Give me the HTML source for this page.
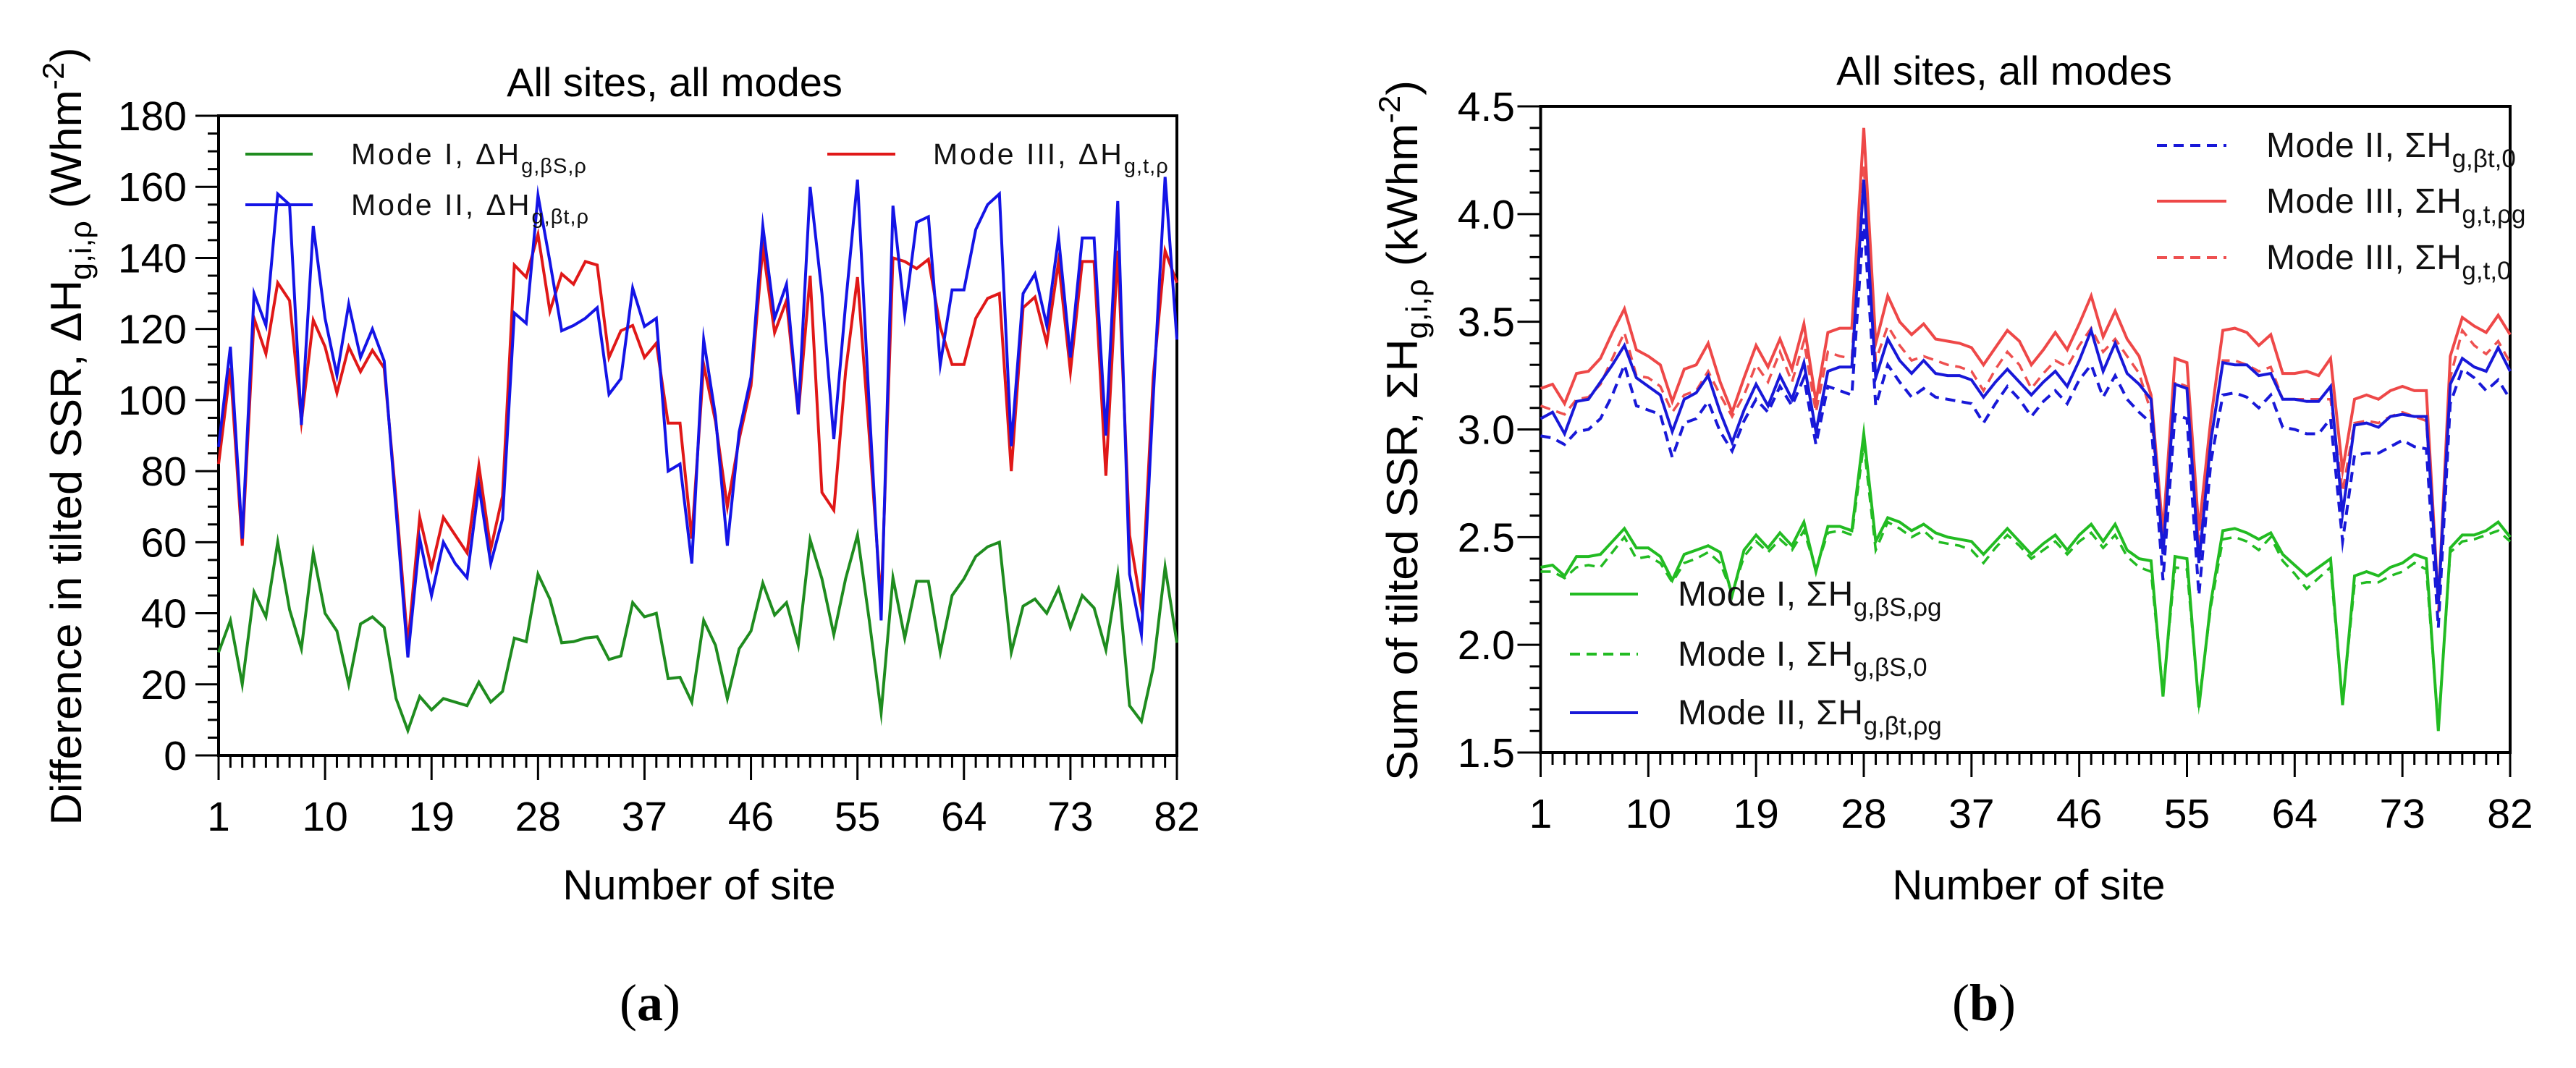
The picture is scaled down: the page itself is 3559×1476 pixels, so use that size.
<!DOCTYPE html>
<html><head><meta charset="utf-8"><style>
html,body{margin:0;padding:0;background:#fff;}
svg{display:block;font-family:"Liberation Sans",Arial,sans-serif;}
</style></head><body>
<svg id="fig" width="3559" height="1476" viewBox="0 0 3559 1476" xmlns="http://www.w3.org/2000/svg">
<rect x="0" y="0" width="3559" height="1476" fill="#fff"/>
<g id="chartA"></g>
<g id="chartB"></g>
</svg>
<script>
// ---------- Data: chart (a) ----------
const sitesA = Array.from({length:82},(_,i)=>i+1);
const xTickLabels = [1,10,19,28,37,46,55,64,73,82];
const yTicksA = [0,20,40,60,80,100,120,140,160,180];
const modeI_A = [29,38,20,46,39,60,41,30,57,40,35,20,37,39,36,16,7,16.6,12.8,16,15,14,20.6,15,18,33,32,51,44,31.7,32,33,33.4,27,28,43,39,40,21.6,22,15,38,31,16,30,35,48.5,39.5,43,31,60.7,49.7,34,49.7,62,38,12,50,33,49,49,29,45,49.7,56,58.7,60,29,42,44,40,47,36,45,41.5,29.7,50.8,14,9.6,24.7,53,31.7];
const modeII_A = [86.8,115,61,130,121,158,155,93,149,123,107,127,112,120,111,69,27.6,61,45,60,54,50,76,54,66.5,124.5,121.6,157.6,139,119.5,121,123,126,101.6,106,131.5,120.7,123,80,82,54,117,95.5,59,91,106.5,149,123,132.6,96,160,130,89,127,162,98,38,154.7,124,150,151.6,110,131,131,148,155,158,87,130,135.5,121,145.8,112,145.6,145.6,90,156,51,34,100.7,162.8,117];
const modeIII_A = [82,109,59,123,113,133,128,94,122.5,115,102,115,108,114,109,72,31,67,52.6,67,62,57,81.6,58,73,138,134.6,146.6,125,135.5,132.6,139,138,112,119.5,121,112,116,93.5,93.5,61,110,94,70,89,104,143,119,128,96,135,74,69,108,134.6,90,42.7,140,139,137,139.6,120.5,110,110,123,128.6,130,80,126,129,116,139,108,139,139,78.7,142,62,41.5,106.5,142,133];

// ---------- Data: chart (b) ----------
const yTicksB = [1.5,2.0,2.5,3.0,3.5,4.0,4.5];
const m3_pg = [3.19,3.21,3.12,3.26,3.27,3.33,3.45,3.56,3.37,3.34,3.30,3.13,3.28,3.30,3.40,3.22,3.08,3.24,3.39,3.29,3.42,3.28,3.49,3.13,3.45,3.47,3.47,4.40,3.40,3.62,3.50,3.44,3.49,3.42,3.41,3.40,3.38,3.30,3.38,3.46,3.41,3.30,3.37,3.45,3.37,3.49,3.62,3.43,3.55,3.42,3.34,3.16,2.52,3.33,3.31,2.53,3.05,3.46,3.47,3.45,3.39,3.44,3.26,3.26,3.27,3.25,3.33,2.81,3.14,3.16,3.14,3.18,3.20,3.18,3.18,2.19,3.34,3.52,3.48,3.45,3.53,3.44];
const m3_0 = [3.11,3.09,3.07,3.14,3.15,3.21,3.33,3.45,3.25,3.24,3.20,3.08,3.16,3.18,3.27,3.16,3.06,3.16,3.30,3.22,3.36,3.22,3.41,3.08,3.36,3.34,3.33,4.23,3.32,3.48,3.39,3.32,3.34,3.32,3.30,3.29,3.27,3.18,3.28,3.36,3.30,3.19,3.26,3.32,3.29,3.39,3.47,3.36,3.42,3.34,3.26,3.08,2.44,3.22,3.20,2.46,2.95,3.32,3.32,3.30,3.27,3.29,3.14,3.14,3.14,3.14,3.14,2.71,3.03,3.04,3.03,3.06,3.08,3.06,3.04,2.15,3.24,3.46,3.39,3.35,3.41,3.31];
const m2_pg = [3.05,3.08,2.98,3.13,3.14,3.22,3.30,3.39,3.24,3.20,3.16,2.99,3.14,3.17,3.25,3.08,2.94,3.09,3.21,3.11,3.25,3.14,3.31,2.99,3.27,3.29,3.29,4.16,3.24,3.42,3.32,3.26,3.32,3.26,3.25,3.25,3.23,3.15,3.22,3.28,3.22,3.16,3.22,3.27,3.20,3.32,3.46,3.27,3.40,3.26,3.21,3.14,2.42,3.21,3.19,2.38,2.95,3.31,3.30,3.30,3.25,3.26,3.14,3.14,3.13,3.13,3.20,2.61,3.02,3.03,3.01,3.06,3.07,3.06,3.06,2.19,3.21,3.33,3.29,3.27,3.38,3.27];
const m2_0 = [2.97,2.96,2.93,2.99,3.00,3.05,3.16,3.30,3.11,3.09,3.07,2.87,3.03,3.05,3.13,2.99,2.90,3.04,3.14,3.08,3.20,3.11,3.24,2.93,3.20,3.18,3.16,3.98,3.11,3.30,3.22,3.15,3.19,3.15,3.14,3.13,3.12,3.03,3.12,3.20,3.14,3.06,3.13,3.18,3.12,3.23,3.30,3.15,3.25,3.14,3.08,3.03,2.30,3.07,3.05,2.23,2.85,3.16,3.17,3.15,3.10,3.16,3.01,3.00,2.98,2.98,3.05,2.48,2.88,2.89,2.89,2.92,2.95,2.92,2.91,2.08,3.12,3.28,3.24,3.18,3.23,3.14];
const m1_pg = [2.36,2.37,2.32,2.41,2.41,2.42,2.48,2.54,2.45,2.45,2.41,2.30,2.42,2.44,2.46,2.43,2.23,2.44,2.51,2.45,2.52,2.46,2.57,2.34,2.55,2.55,2.53,2.98,2.48,2.59,2.57,2.53,2.56,2.52,2.50,2.49,2.48,2.42,2.48,2.54,2.48,2.42,2.47,2.51,2.44,2.51,2.56,2.48,2.56,2.44,2.40,2.39,1.76,2.41,2.40,1.71,2.20,2.53,2.54,2.52,2.49,2.52,2.42,2.37,2.32,2.36,2.40,1.72,2.32,2.34,2.32,2.36,2.38,2.42,2.40,1.60,2.45,2.51,2.51,2.53,2.57,2.50];
const m1_0 = [2.34,2.34,2.31,2.36,2.37,2.36,2.43,2.50,2.40,2.41,2.38,2.29,2.38,2.40,2.43,2.38,2.24,2.41,2.48,2.43,2.49,2.44,2.53,2.35,2.52,2.53,2.51,2.93,2.44,2.57,2.54,2.50,2.53,2.48,2.47,2.46,2.44,2.38,2.45,2.51,2.46,2.40,2.44,2.48,2.42,2.48,2.52,2.45,2.51,2.41,2.36,2.34,1.78,2.36,2.35,1.73,2.18,2.49,2.50,2.48,2.44,2.50,2.39,2.33,2.26,2.31,2.36,1.73,2.28,2.29,2.29,2.32,2.34,2.38,2.35,1.62,2.43,2.48,2.49,2.51,2.53,2.48];

const NS='http://www.w3.org/2000/svg';
function mk(tag, attrs, parent){
  const e=document.createElementNS(NS,tag);
  for(const k in attrs) e.setAttribute(k,attrs[k]);
  if(parent) parent.appendChild(e);
  return e;
}
function makeScale(d0,d1,r0,r1){ return v => r0+(v-d0)*(r1-r0)/(d1-d0); }

function drawAxes(g, xs, ys, L, R, T, B, yMin, yMax, yTicks, yMinorStep, yFmt, labelRight){
  const frame = mk('rect',{x:L,y:T,width:R-L,height:B-T,fill:'none',stroke:'#000','stroke-width':4},g);
  
  
  const nMin = Math.round((yMax-yMin)/yMinorStep);
  for(let k=0;k<=nMin;k++){
    const v=yMin+k*yMinorStep, y=ys(v);
    const major = yTicks.some(t=>Math.abs(t-v)<1e-6);
    const t = mk('line',{x1:L-(major?32:15),x2:L,y1:y,y2:y,stroke:'#000','stroke-width':3},g);
    
    
  }
  yTicks.forEach(v=>{
    const tx = mk('text',{x:labelRight,y:ys(v)+20,'text-anchor':'end','font-size':57,fill:'#000'},g);
    tx.textContent = yFmt(v);
    
    
  });
  for(let s=1;s<=82;s++){
    const x=xs(s);
    const major = xTickLabels.includes(s);
    const t = mk('line',{x1:x,x2:x,y1:B,y2:B+(major?34:17),stroke:'#000','stroke-width':3},g);
    
    
  }
  xTickLabels.forEach(s=>{
    const tx = mk('text',{x:xs(s),y:B+104,'text-anchor':'middle','font-size':57,fill:'#000'},g);
    tx.textContent = s;
    
    
  });
}

function series(g, xs, ys, vals, color, dash, name, w){
  const pts = vals.map((v,i)=>xs(sitesA[i]).toFixed(1)+','+ys(v).toFixed(1)).join(' ');
  const p = mk('polyline',{points:pts,fill:'none',stroke:color,'stroke-width':w||4,'stroke-linejoin':'miter','stroke-miterlimit':10},g);
  if(dash) p.setAttribute('stroke-dasharray',dash);
  
  
  return p;
}

// ---------- Chart A ----------
(function(){
  const g=document.getElementById('chartA');
  const L=302,R=1626,T=160,B=1044;
  const xs=makeScale(1,82,L,R), ys=makeScale(0,180,B,T);
  drawAxes(g,xs,ys,L,R,T,B,0,180,yTicksA,5,v=>String(v),258);
  series(g,xs,ys,modeI_A,'#1f8c1f',null,'series-mode-i');
  series(g,xs,ys,modeIII_A,'#e01818',null,'series-mode-iii');
  series(g,xs,ys,modeII_A,'#1414e6',null,'series-mode-ii');
  const leg=[[339,432,213,'#1f8c1f','Mode I, ΔH','g,βS,ρ',485,'legend-mode-i'],
             [339,432,283,'#1414e6','Mode II, ΔH','g,βt,ρ',485,'legend-mode-ii'],
             [1143,1237,213,'#e01818','Mode III, ΔH','g,t,ρ',1289,'legend-mode-iii']];
  leg.forEach(l=>{
    const gg=mk('g',{},g);
    
    
    mk('line',{x1:l[0],x2:l[1],y1:l[2],y2:l[2],stroke:l[3],'stroke-width':4},gg);
    const t=mk('text',{x:l[6],y:l[2]+14,'font-size':41,'letter-spacing':3,fill:'#111'},gg);
    t.innerHTML = l[4]+'<tspan font-size="29" dy="12" letter-spacing="1">'+l[5]+'</tspan>';
  });
  const title=mk('text',{x:932,y:133,'text-anchor':'middle','font-size':56,fill:'#000'},g);
  title.textContent='All sites, all modes';
  
  
  const xt=mk('text',{x:966,y:1243,'text-anchor':'middle','font-size':58,fill:'#000'},g);
  xt.textContent='Number of site';
  
  
  const yt=mk('text',{transform:'translate(112,603) rotate(-90)','text-anchor':'middle','font-size':60,fill:'#000',textLength:1075,lengthAdjust:'spacingAndGlyphs'},g);
  yt.innerHTML='Difference in tilted SSR, ΔH<tspan font-size="42" dy="14">g,i,ρ</tspan><tspan dy="-14"> (Whm</tspan><tspan font-size="42" dy="-24">-2</tspan><tspan dy="24">)</tspan>';
  
  
  const cap=mk('text',{x:898,y:1410,'text-anchor':'middle','font-size':72,'font-family':'"Liberation Serif",serif',fill:'#000'},g);
  cap.innerHTML='(<tspan font-weight="bold">a</tspan>)';
  
  
})();

// ---------- Chart B ----------
(function(){
  const g=document.getElementById('chartB');
  const L=2128.5,R=3468,T=147,B=1040;
  const xs=makeScale(1,82,L,R), ys=makeScale(1.5,4.5,B,T);
  drawAxes(g,xs,ys,L,R,T,B,1.5,4.5,yTicksB,0.1,v=>v.toFixed(1),2093);
  series(g,xs,ys,m1_0,'#22bb22','14,9','series-mode-i-0',3.5);
  series(g,xs,ys,m1_pg,'#22bb22',null,'series-mode-i-pg',4);
  series(g,xs,ys,m3_0,'#ee5050','14,9','series-mode-iii-0',3.5);
  series(g,xs,ys,m3_pg,'#ee4848',null,'series-mode-iii-pg',4);
  series(g,xs,ys,m2_0,'#1818d8','14,9','series-mode-ii-0',4);
  series(g,xs,ys,m2_pg,'#1818d8',null,'series-mode-ii-pg',4);
  const leg=[[2980,3076,201,'#1818d8','14,9','Mode II, ΣH','g,βt,0',3131,'legend-mode-ii-0'],
             [2980,3076,278,'#ee4848',null,'Mode III, ΣH','g,t,ρg',3131,'legend-mode-iii-pg'],
             [2980,3076,356,'#ee5050','14,9','Mode III, ΣH','g,t,0',3131,'legend-mode-iii-0'],
             [2169,2263,821,'#22bb22',null,'Mode I, ΣH','g,βS,ρg',2318,'legend-mode-i-pg'],
             [2169,2263,904,'#22bb22','14,9','Mode I, ΣH','g,βS,0',2318,'legend-mode-i-0'],
             [2169,2263,985,'#1818d8',null,'Mode II, ΣH','g,βt,ρg',2318,'legend-mode-ii-pg']];
  leg.forEach(l=>{
    const gg=mk('g',{},g);
    
    
    const ln=mk('line',{x1:l[0],x2:l[1],y1:l[2],y2:l[2],stroke:l[3],'stroke-width':4},gg);
    if(l[4]) ln.setAttribute('stroke-dasharray',l[4]);
    const t=mk('text',{x:l[7],y:l[2]+16,'font-size':48,'letter-spacing':0.5,fill:'#111'},gg);
    t.innerHTML = l[5]+'<tspan font-size="35" dy="14" letter-spacing="0">'+l[6]+'</tspan>';
  });
  const title=mk('text',{x:2769,y:117,'text-anchor':'middle','font-size':56,fill:'#000'},g);
  title.textContent='All sites, all modes';
  
  
  const xt=mk('text',{x:2803,y:1243,'text-anchor':'middle','font-size':58,fill:'#000'},g);
  xt.textContent='Number of site';
  
  
  const yt=mk('text',{transform:'translate(1958,595) rotate(-90)','text-anchor':'middle','font-size':60,fill:'#000',textLength:968,lengthAdjust:'spacingAndGlyphs'},g);
  yt.innerHTML='Sum of tilted SSR, ΣH<tspan font-size="42" dy="14">g,i,ρ</tspan><tspan dy="-14"> (kWhm</tspan><tspan font-size="42" dy="-24">-2</tspan><tspan dy="24">)</tspan>';
  
  
  const cap=mk('text',{x:2741,y:1410,'text-anchor':'middle','font-size':72,'font-family':'"Liberation Serif",serif',fill:'#000'},g);
  cap.innerHTML='(<tspan font-weight="bold">b</tspan>)';
  
  
})();
</script>
</body></html>
